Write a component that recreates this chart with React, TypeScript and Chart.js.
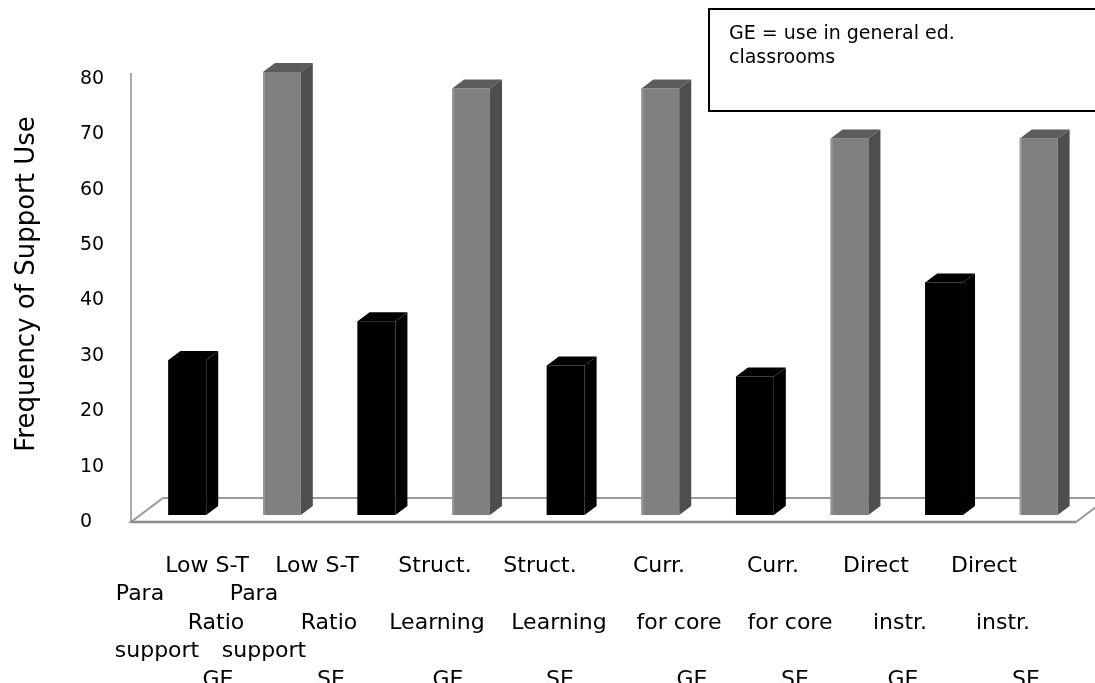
import React, { useEffect, useRef } from "react";
import { Chart, registerables } from "chart.js";

Chart.register(...registerables);

// ---- data ----
const categories = [
  "Para support GE",
  "Para support SE",
  "Low S-T Ratio GE",
  "Low S-T Ratio SE",
  "Struct. Learning GE",
  "Struct. Learning SE",
  "Curr. for core GE",
  "Curr. for core SE",
  "Direct instr. GE",
  "Direct instr. SE",
];
const settings = ["GE", "SE", "GE", "SE", "GE", "SE", "GE", "SE", "GE", "SE"];
const frequencies = [28, 80, 35, 77, 27, 77, 25, 68, 42, 68];
const yTickValues = [0, 10, 20, 30, 40, 50, 60, 70, 80];
const axisTitle = "Frequency of Support Use";
const noteLines = ["GE = use in general ed.", "classrooms"];

// wrapped category text under the floor, one list per text row
const labelRows = [
  ["Low S-T", "Low S-T", "Struct.", "Struct.", "Curr.", "Curr.", "Direct", "Direct"],
  ["Para", "Para"],
  ["Ratio", "Ratio", "Learning", "Learning", "for core", "for core", "instr.", "instr."],
  ["support", "support"],
  ["GE", "SE", "GE", "SE", "GE", "SE", "GE", "SE"],
];

// ---- layout / style ----
const W = 1095;
const H = 683;
const FONT = "'DejaVu Sans', sans-serif";
const rowBaselines = [572, 600, 629, 657, 686];
const rowCenters = [
  [207, 317, 435, 540, 659, 773, 876, 984],
  [140, 254],
  [216, 329, 437, 559, 679, 790, 900, 1003],
  [157, 264],
  [218, 331, 448, 560, 692, 795, 903, 1026],
];
const DEPTH_X = 12;
const DEPTH_Y = 9;
const colors = {
  GE: { front: "#000000", top: "#000000", side: "#000000", edge: "#000000" },
  SE: { front: "#808080", top: "#5c5c5c", side: "#4e4e4e", edge: "#989898" },
} as Record<string, { front: string; top: string; side: string; edge: string }>;

const floorPlugin = {
  id: "floor3d",
  beforeDatasetsDraw(chart: any) {
    const { ctx, chartArea } = chart;
    const { left, right, bottom } = chartArea;
    const yScale = chart.scales.y;
    const wallTop = yScale.getPixelForValue(80) + 1;
    const frontY = bottom + 7;
    const backY = bottom - 17;
    ctx.save();
    ctx.fillStyle = "#ffffff";
    ctx.strokeStyle = "#9a9a9a";
    ctx.lineWidth = 2;
    ctx.beginPath();
    ctx.moveTo(left - 9, frontY);
    ctx.lineTo(left + 23, backY);
    ctx.lineTo(right + 22, backY);
    ctx.lineTo(right - 10, frontY);
    ctx.closePath();
    ctx.fill();
    ctx.stroke();
    ctx.beginPath();
    ctx.strokeStyle = "#8c8c8c";
    ctx.lineWidth = 2.5;
    ctx.moveTo(left - 9, frontY);
    ctx.lineTo(right - 10, frontY);
    ctx.stroke();
    // left wall edge
    ctx.beginPath();
    ctx.strokeStyle = "#8f8f8f";
    ctx.lineWidth = 1.5;
    ctx.moveTo(left - 9, wallTop);
    ctx.lineTo(left - 9, frontY);
    ctx.stroke();
    ctx.restore();
  },
};

const barDepthPlugin = {
  id: "barDepth",
  afterDatasetsDraw(chart: any) {
    const { ctx } = chart;
    const meta = chart.getDatasetMeta(0);
    ctx.save();
    meta.data.forEach((bar: any, i: number) => {
      const { x, y, base, width } = bar.getProps(["x", "y", "base", "width"], true);
      const l = x - width / 2;
      const r = x + width / 2;
      const c = colors[settings[i]];
      // top face
      ctx.fillStyle = c.top;
      ctx.beginPath();
      ctx.moveTo(l, y);
      ctx.lineTo(l + DEPTH_X, y - DEPTH_Y);
      ctx.lineTo(r + DEPTH_X, y - DEPTH_Y);
      ctx.lineTo(r, y);
      ctx.closePath();
      ctx.fill();
      // side face
      ctx.fillStyle = c.side;
      ctx.beginPath();
      ctx.moveTo(r, y);
      ctx.lineTo(r + DEPTH_X, y - DEPTH_Y);
      ctx.lineTo(r + DEPTH_X, base - DEPTH_Y);
      ctx.lineTo(r, base);
      ctx.closePath();
      ctx.fill();
      // light front edge
      ctx.fillStyle = c.edge;
      ctx.fillRect(l, y, 2, base - y);
    });
    ctx.restore();
  },
};

const textPlugin = {
  id: "chartText",
  afterDraw(chart: any) {
    const { ctx } = chart;
    const yScale = chart.scales.y;
    ctx.save();
    ctx.fillStyle = "#000000";

    // value axis labels
    ctx.font = `19px ${FONT}`;
    ctx.textAlign = "left";
    ctx.textBaseline = "middle";
    yTickValues.forEach((v) => {
      ctx.fillText(String(v), 80, yScale.getPixelForValue(v) + 7);
    });

    // value axis title
    ctx.save();
    ctx.font = `26px ${FONT}`;
    ctx.textAlign = "center";
    ctx.textBaseline = "middle";
    ctx.translate(27, 284);
    ctx.rotate(-Math.PI / 2);
    ctx.fillText(axisTitle, 0, 0);
    ctx.restore();

    // category text
    ctx.font = `22px ${FONT}`;
    ctx.textAlign = "center";
    ctx.textBaseline = "alphabetic";
    labelRows.forEach((row, r) => {
      row.forEach((t, k) => {
        ctx.fillText(t, rowCenters[r][k], rowBaselines[r]);
      });
    });

    // note box
    ctx.fillStyle = "#ffffff";
    ctx.fillRect(709, 9, W, 102);
    ctx.strokeStyle = "#000000";
    ctx.lineWidth = 2;
    ctx.strokeRect(709, 9, W, 102);
    ctx.fillStyle = "#000000";
    ctx.font = `19px ${FONT}`;
    ctx.textAlign = "left";
    noteLines.forEach((t, i) => ctx.fillText(t, 729, 39 + i * 24));
    ctx.restore();
  },
};

export default function App() {
  const canvasRef = useRef<HTMLCanvasElement | null>(null);

  useEffect(() => {
    document.body.style.margin = "0";
    const canvas = canvasRef.current;
    if (!canvas) return;
    const chart = new Chart(canvas, {
      type: "bar",
      data: {
        labels: categories,
        datasets: [
          {
            data: frequencies,
            backgroundColor: settings.map((s) => colors[s].front),
            borderWidth: 0,
            barPercentage: 0.4,
            categoryPercentage: 1,
          },
        ],
      },
      options: {
        responsive: false,
        animation: false,
        devicePixelRatio: 1,
        layout: { padding: { left: 140, right: 9, top: 72, bottom: 168 } },
        plugins: { legend: { display: false }, tooltip: { enabled: false } },
        scales: {
          x: { display: false },
          y: { display: false, min: 0, max: 80, ticks: { stepSize: 10 } },
        },
      },
      plugins: [floorPlugin, barDepthPlugin, textPlugin],
    });
    return () => chart.destroy();
  }, []);

  return (
    <canvas
      ref={canvasRef}
      width={W}
      height={H}
      style={{ display: "block", background: "#ffffff" }}
    />
  );
}
